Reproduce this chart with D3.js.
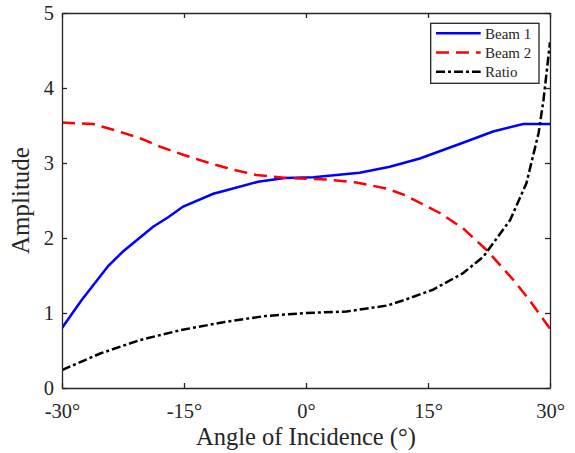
<!DOCTYPE html>
<html>
<head>
<meta charset="utf-8">
<script src="https://cdn.jsdelivr.net/npm/d3@7"></script>
<style>
  body { margin: 0; background: #fff; }
  text { font-family: "Liberation Serif", "DejaVu Serif", serif; fill: #262626; }
</style>
</head>
<body>
<div id="chart"></div>
<script>
// data
var beam1Angles = [-30, -27.6, -24.3, -22.5, -18.8, -16.9, -15.1, -11.4, -10, -5.9, -2.6, 0.9, 6.6, 10.3, 14, 19.3, 23, 26.7, 30];
var beam1Values = [0.8, 1.17, 1.63, 1.82, 2.15, 2.28, 2.42, 2.59, 2.63, 2.75, 2.80, 2.81, 2.87, 2.95, 3.06, 3.27, 3.42, 3.52, 3.52];

var beam2Angles = [-30, -26.2, -23.3, -20.4, -18, -15.1, -12.2, -9.3, -6.1, -2.2, 2.5, 6.2, 9.9, 12.2, 16.5, 19.3, 22.2, 25.5, 27.5, 30];
var beam2Values = [3.54, 3.52, 3.43, 3.33, 3.22, 3.11, 3.01, 2.92, 2.84, 2.80, 2.78, 2.74, 2.66, 2.57, 2.33, 2.13, 1.84, 1.44, 1.17, 0.79];

var ratioAngles = [-30, -25.3, -20.4, -15.5, -10, -5, 0, 5, 10, 12, 15.6, 19.3, 21.8, 25.1, 27.1, 28.6, 29.2, 30];
var ratioValues = [0.24, 0.46, 0.64, 0.77, 0.88, 0.96, 1.0, 1.02, 1.1, 1.17, 1.31, 1.53, 1.75, 2.24, 2.73, 3.40, 3.84, 4.61];

var xTicks = [-30, -15, 0, 15, 30];
var yTicks = [0, 1, 2, 3, 4, 5];
var seriesNames = ["Beam 1", "Beam 2", "Ratio"];

// set the dimensions and margins of the graph
var margin = {top: 13, right: 25, bottom: 65, left: 62},
  width = 575 - margin.left - margin.right,
  height = 453 - margin.top - margin.bottom;

var svg = d3.select("#chart")
  .append("svg")
  .attr("width", 575)
  .attr("height", 453)
  .append("g")
  .attr("transform", "translate(" + margin.left + "," + margin.top + ")");

var x = d3.scaleLinear().domain([-30, 30]).range([0, width]);
var y = d3.scaleLinear().domain([0, 5]).range([height, 0]);

// lines
var series = [
  {name: seriesNames[0], xs: beam1Angles, ys: beam1Values, color: "#0000ff", dash: null},
  {name: seriesNames[1], xs: beam2Angles, ys: beam2Values, color: "#ff0000", dash: "13,7"},
  {name: seriesNames[2], xs: ratioAngles, ys: ratioValues, color: "#000000", dash: "9,3,3,3"}
];

var line = d3.line()
  .x(function(d) { return x(d[0]); })
  .y(function(d) { return y(d[1]); });

svg.append("defs").append("clipPath").attr("id", "clip")
  .append("rect").attr("width", width).attr("height", height);

series.forEach(function(s) {
  svg.append("path")
    .datum(s.xs.map(function(a, i) { return [a, s.ys[i]]; }))
    .attr("clip-path", "url(#clip)")
    .attr("fill", "none")
    .attr("stroke", s.color)
    .attr("stroke-width", 2.5)
    .attr("stroke-dasharray", s.dash)
    .attr("d", line);
});

// axes, ticks inside, mirrored on top/right
var axisColor = "#262626";
var fmtDeg = function(d) { return d + "\u00b0"; };

var xAxis = svg.append("g")
  .attr("transform", "translate(0," + height + ")")
  .call(d3.axisBottom(x).tickValues(xTicks).tickFormat(fmtDeg).tickSizeInner(-5).tickSizeOuter(0).tickPadding(15));
var xTop = svg.append("g")
  .call(d3.axisTop(x).tickValues(xTicks).tickFormat("").tickSizeInner(-5).tickSizeOuter(0));
var yAxis = svg.append("g")
  .call(d3.axisLeft(y).tickValues(yTicks).tickFormat(d3.format("d")).tickSizeInner(-5).tickSizeOuter(0).tickPadding(8));
var yRight = svg.append("g")
  .attr("transform", "translate(" + width + ",0)")
  .call(d3.axisRight(y).tickValues(yTicks).tickFormat("").tickSizeInner(-5).tickSizeOuter(0));

[xAxis, xTop, yAxis, yRight].forEach(function(g) {
  g.selectAll("path").attr("stroke", axisColor).attr("stroke-width", 1.3);
  g.selectAll("line").attr("stroke", axisColor).attr("stroke-width", 1.3);
  g.selectAll("text").attr("fill", axisColor).style("font-size", "20.5px")
    .style("font-family", "'Liberation Serif', 'DejaVu Serif', serif");
});

// axis labels
svg.append("text")
  .attr("text-anchor", "middle")
  .attr("x", width / 2)
  .attr("y", height + 56.5)
  .style("font-size", "24.5px")
  .text("Angle of Incidence (\u00b0)");

svg.append("text")
  .attr("text-anchor", "middle")
  .attr("transform", "translate(-33," + (height / 2) + ") rotate(-90)")
  .style("font-size", "25px")
  .text("Amplitude");

// legend
var legend = svg.append("g").attr("transform", "translate(368.7,10.3)");
legend.append("rect")
  .attr("width", 108.3).attr("height", 60)
  .attr("fill", "#fff").attr("stroke", axisColor).attr("stroke-width", 1.3);
series.forEach(function(s, i) {
  var ly = 10 + i * 19.2;
  legend.append("line")
    .attr("x1", 5.3).attr("x2", 50).attr("y1", ly).attr("y2", ly)
    .attr("stroke", s.color).attr("stroke-width", 2.5)
    .attr("stroke-dasharray", s.dash);
  legend.append("text")
    .attr("x", 54.3).attr("y", ly)
    .attr("dy", "0.35em")
    .style("font-size", "15px")
    .text(s.name);
});
</script>
</body>
</html>
